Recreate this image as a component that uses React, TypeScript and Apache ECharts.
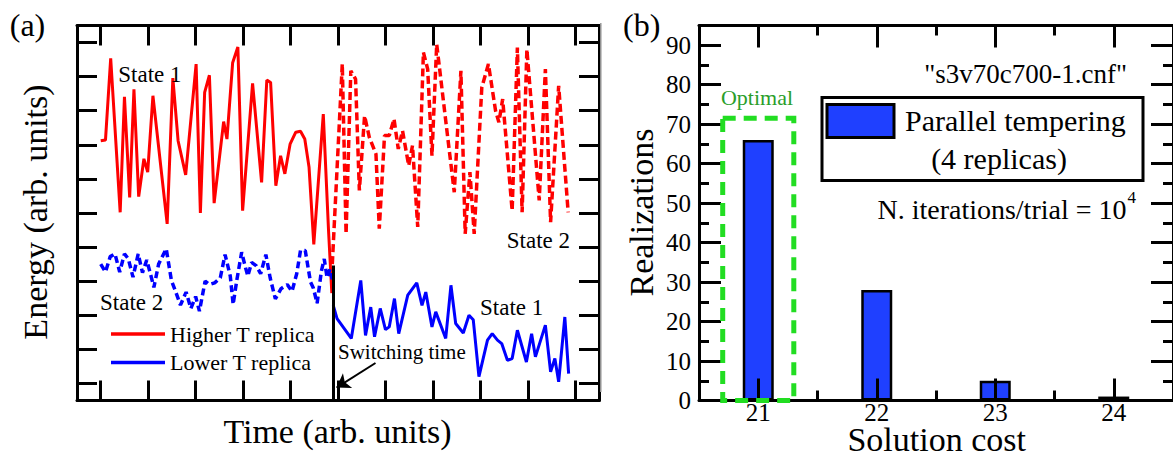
import React, { useEffect, useRef } from 'react';
import * as echarts from 'echarts';

const FONT = '"Liberation Serif", "Times New Roman", serif';

// ---------- Panel (a) data (arbitrary units, ticks at 0..10) ----------
const timeTicks = ['0', '1', '2', '3', '4', '5', '6', '7', '8', '9', '10'];
const energyTicks = ['0', '1', '2', '3', '4', '5', '6', '7', '8', '9', '10'];

const higherBefore: number[][] = [
  [0.0, 7.12], [0.1, 7.14], [0.21, 9.54], [0.41, 5.02], [0.5, 8.41], [0.61, 5.46], [0.7, 8.63],
  [0.8, 5.48], [0.91, 6.59], [0.99, 6.2], [1.1, 8.44], [1.4, 4.68], [1.52, 8.96], [1.63, 7.12],
  [1.79, 6.12], [2.01, 9.37], [2.1, 5.0], [2.19, 8.54], [2.29, 9.04], [2.39, 5.29], [2.59, 7.68],
  [2.66, 7.17], [2.78, 9.41], [2.89, 9.87], [2.99, 5.07], [3.2, 8.8], [3.39, 5.9], [3.5, 8.9],
  [3.58, 8.83], [3.69, 5.8], [3.79, 6.68], [3.88, 6.15], [3.99, 7.02], [4.11, 7.37], [4.21, 7.4],
  [4.3, 7.17], [4.39, 6.34], [4.49, 4.08], [4.69, 7.9], [4.8, 4.5], [4.87, 2.65],
];
const higherAfter: number[][] = [
  [4.88, 3.5], [5.09, 9.37], [5.17, 4.39], [5.27, 9.17], [5.37, 8.93], [5.45, 5.66], [5.56, 7.85],
  [5.66, 7.22], [5.8, 6.73], [5.87, 4.54], [5.98, 7.27], [6.08, 7.27], [6.18, 7.76], [6.27, 6.88],
  [6.36, 7.41], [6.49, 6.39], [6.57, 6.98], [6.68, 4.59], [6.8, 9.71], [6.89, 9.22], [6.98, 6.68],
  [7.08, 9.95], [7.27, 7.71], [7.45, 5.61], [7.59, 9.17], [7.68, 4.39], [7.78, 6.2], [7.87, 4.39],
  [8.03, 8.68], [8.17, 9.37], [8.32, 8.0], [8.39, 7.66], [8.47, 8.34], [8.67, 5.07], [8.78, 9.85],
  [8.88, 5.02], [8.98, 9.8], [9.24, 5.37], [9.37, 9.22], [9.48, 4.73], [9.65, 8.73], [9.85, 5.02],
];
const lowerBefore: number[][] = [
  [0.0, 3.5], [0.1, 3.27], [0.2, 3.72], [0.3, 3.8], [0.4, 3.27], [0.5, 3.8], [0.58, 3.66],
  [0.68, 3.12], [0.79, 3.8], [0.88, 3.25], [0.97, 3.62], [1.06, 3.15], [1.12, 2.82], [1.22, 3.5],
  [1.38, 3.95], [1.49, 3.02], [1.57, 2.73], [1.68, 2.3], [1.8, 2.68], [1.9, 2.2], [2.0, 2.55],
  [2.08, 2.12], [2.2, 3.0], [2.29, 2.9], [2.4, 2.95], [2.52, 3.1], [2.62, 3.78], [2.73, 3.15],
  [2.79, 2.32], [2.87, 3.05], [2.97, 3.85], [3.05, 3.4], [3.1, 3.15], [3.18, 3.55], [3.28, 3.45],
  [3.37, 3.22], [3.48, 3.78], [3.57, 3.1], [3.68, 2.48], [3.8, 2.78], [3.93, 2.9], [4.03, 2.7],
  [4.13, 3.22], [4.21, 3.9], [4.31, 3.9], [4.42, 2.98], [4.48, 2.8], [4.56, 2.35], [4.65, 3.3],
  [4.71, 3.65], [4.77, 3.1], [4.83, 3.35], [4.88, 3.05],
];
const lowerAfter: number[][] = [
  [4.9, 2.29], [4.98, 1.9], [5.28, 1.32], [5.48, 3.02], [5.58, 1.41], [5.69, 2.24], [5.77, 1.37],
  [5.89, 2.2], [6.0, 1.58], [6.08, 1.66], [6.19, 2.49], [6.28, 1.46], [6.47, 2.59], [6.66, 2.95],
  [6.77, 2.29], [6.85, 2.68], [6.98, 1.66], [7.06, 2.1], [7.27, 1.32], [7.38, 2.88], [7.48, 1.76],
  [7.64, 1.48], [7.76, 2.0], [7.85, 1.87], [7.97, 0.2], [8.15, 1.27], [8.25, 1.46], [8.36, 1.27],
  [8.45, 1.17], [8.57, 0.68], [8.67, 0.73], [8.78, 1.56], [8.97, 0.63], [9.08, 1.46], [9.16, 0.78],
  [9.37, 1.71], [9.48, 0.34], [9.57, 0.73], [9.65, 0.05], [9.78, 1.95], [9.86, 0.29],
];
const switchTime = 4.89;
const switchLineTop = 3.46;
const arrowFrom = [5.79, 0.6];
const arrowTo = [4.97, -0.12];

// ---------- Panel (b) data ----------
const costCategories = ['21', '22', '23', '24'];
const realizations = [66, 28, 5, 1];
const optimalBox = [[20.7, 21.3, 71.5]]; // cost from, cost to, height

const BLACK = '#000';
const mkLine = () => ({ show: true, onZero: false, lineStyle: { color: BLACK, width: 3 } });
const mkTick = (length: number, alignWithLabel: boolean) => ({
  show: true, inside: true, alignWithLabel, interval: 0, length,
  lineStyle: { color: BLACK, width: 3, opacity: 1 },
});

function txt(
  text: string, x: number, y: number, size: number,
  align: string = 'left', extra: any = {}, fill: string = BLACK, lineHeight?: number
) {
  const style: any = {
    text, fill, fontFamily: FONT, fontSize: size,
    textAlign: align, align, textVerticalAlign: 'middle', verticalAlign: 'middle',
  };
  if (lineHeight) style.lineHeight = lineHeight;
  return { type: 'text', x, y, z: 20, ...extra, style };
}

function buildOption(): any {
  const catAxis = (gridIndex: number, data: string[], position: string, tick: any, line: boolean, label: any) => ({
    gridIndex, type: 'category', data, position, boundaryGap: true,
    axisLine: line ? mkLine() : { show: false, onZero: false },
    splitLine: { show: false },
    axisTick: tick,
    axisLabel: label || { show: false, interval: 0 },
  });
  const valY = (position: string, interval: number, len: number, showLine: boolean, labels: boolean) => ({
    gridIndex: 1, type: 'value', min: 0, max: 95, interval, position,
    axisLine: showLine ? mkLine() : { show: false, onZero: false },
    splitLine: { show: false },
    axisTick: mkTick(len, false),
    axisLabel: labels
      ? {
          show: true, margin: 8, color: BLACK, fontFamily: FONT, fontSize: 25,
          formatter: (v: number) => (v % 10 === 0 ? String(v) : ''),
        }
      : { show: false },
  });
  const xLabel = {
    show: true, interval: 0, margin: 1, color: BLACK, fontFamily: FONT, fontSize: 25, lineHeight: 21,
  };

  return {
    animation: false,
    backgroundColor: '#fff',
    grid: [
      { left: 77, top: 25.5, width: 522, height: 375 },
      { left: 699, top: 25.5, width: 476, height: 375 },
    ],
    legend: {
      data: ['Higher T replica', 'Lower T replica'],
      orient: 'vertical', left: 106, top: 318, itemWidth: 54, itemHeight: 3.5, itemGap: 6.5,
      icon: 'rect', selectedMode: false,
      textStyle: { fontFamily: FONT, fontSize: 22, color: BLACK },
    },
    xAxis: [
      { gridIndex: 0, type: 'value', min: -0.5, max: 10.5, show: false },
      catAxis(0, timeTicks, 'bottom', mkTick(20, true), true, null),
      catAxis(0, timeTicks, 'top', mkTick(20, true), true, null),
      catAxis(1, costCategories, 'bottom', mkTick(10, false), true, xLabel),
      catAxis(1, costCategories, 'bottom', mkTick(22, true), false, null),
      catAxis(1, costCategories, 'top', mkTick(10, false), true, null),
      catAxis(1, costCategories, 'top', mkTick(22, true), false, null),
      { gridIndex: 1, type: 'value', min: 20.5, max: 24.5, show: false },
    ],
    yAxis: [
      { gridIndex: 0, type: 'value', min: -0.5, max: 10.5, show: false },
      catAxis(0, energyTicks, 'left', mkTick(20, true), true, null),
      catAxis(0, energyTicks, 'right', mkTick(20, true), true, null),
      valY('left', 10, 22, true, true),
      valY('left', 5, 10, false, false),
      valY('right', 10, 22, true, false),
      valY('right', 5, 10, false, false),
    ],
    series: [
      {
        type: 'line', name: 'Higher T replica', xAxisIndex: 0, yAxisIndex: 0, data: higherBefore,
        symbol: 'none', z: 3, color: '#ff0000', lineStyle: { color: '#ff0000', width: 3 },
      },
      {
        type: 'line', name: 'Higher T replica (after switch)', xAxisIndex: 0, yAxisIndex: 0,
        data: higherAfter, symbol: 'none', z: 3, color: '#ff0000',
        lineStyle: { color: '#ff0000', width: 3.5, type: [8, 4] },
      },
      {
        type: 'line', name: 'Lower T replica (before switch)', xAxisIndex: 0, yAxisIndex: 0,
        data: lowerBefore, symbol: 'none', z: 3, color: '#0000ff',
        lineStyle: { color: '#0000ff', width: 3.5, type: [7, 4] },
      },
      {
        type: 'line', name: 'Lower T replica', xAxisIndex: 0, yAxisIndex: 0, data: lowerAfter,
        symbol: 'none', z: 3, color: '#0000ff', lineStyle: { color: '#0000ff', width: 3 },
        markLine: {
          silent: true, animation: false, symbol: ['none', 'none'], label: { show: false },
          lineStyle: { color: BLACK, type: 'solid', width: 3 },
          data: [
            [
              { coord: [switchTime, switchLineTop], lineStyle: { color: BLACK, width: 3, type: 'solid' } },
              { coord: [switchTime, -0.5] },
            ],
            [
              { coord: arrowFrom, symbol: 'none', lineStyle: { color: BLACK, width: 2, type: 'solid' } },
              { coord: arrowTo, symbol: 'arrow', symbolSize: 13 },
            ],
          ],
        },
      },
      {
        type: 'bar', name: 'Parallel tempering (4 replicas)', xAxisIndex: 3, yAxisIndex: 3,
        data: realizations, barWidth: 31, z: -1,
        itemStyle: { color: '#1f40ff', borderColor: BLACK, borderWidth: 2.5 },
      },
      {
        type: 'custom', name: 'Optimal', xAxisIndex: 7, yAxisIndex: 3, data: optimalBox, z: 4,
        encode: { x: [0, 1], y: 2 },
        renderItem: (params: any, api: any) => {
          const p0 = api.coord([api.value(0), api.value(2)]);
          const p1 = api.coord([api.value(1), 0]);
          return {
            type: 'rect',
            shape: { x: p0[0], y: p0[1], width: p1[0] - p0[0], height: p1[1] - p0[1] },
            style: { fill: 'none', stroke: '#22dd22', lineWidth: 5, lineDash: [13, 8] },
          };
        },
      },
    ],
    graphic: [
      { type: 'line', z: 1, shape: { x1: 600.8, y1: 23, x2: 600.8, y2: 392 }, style: { stroke: '#999', lineWidth: 1.5 } },
      txt('(a)', 27.5, 24.5, 32, 'center'),
      txt('(b)', 641.7, 24.5, 32, 'center'),
      txt('Energy (arb. units)', 35, 212, 34, 'center', { rotation: Math.PI / 2 }),
      txt('Time (arb. units)', 337.5, 431, 34, 'center'),
      txt('Realizations', 641.5, 212.5, 34, 'center', { rotation: Math.PI / 2 }),
      txt('Solution cost', 936.7, 439, 34, 'center', {}, BLACK, 26),
      txt('State 1', 118.3, 74, 23, 'left'),
      txt('State 2', 570, 240.5, 23, 'right'),
      txt('State 2', 100, 302, 23, 'left'),
      txt('State 1', 480, 307, 23, 'left'),
      txt('Switching time', 338, 352, 21, 'left'),
      txt('Optimal', 757, 97, 22, 'center', {}, '#2a9e2a'),
      txt('"s3v70c700-1.cnf"', 1127, 73.5, 27, 'right'),
      {
        type: 'rect', z: 15, shape: { x: 822, y: 97.5, width: 321, height: 83 },
        style: { fill: '#fff', stroke: BLACK, lineWidth: 3 },
      },
      {
        type: 'rect', z: 16, shape: { x: 827, y: 104.5, width: 67, height: 33 },
        style: { fill: '#1f40ff', stroke: BLACK, lineWidth: 3 },
      },
      txt('Parallel tempering', 905, 120, 30, 'left'),
      txt('(4 replicas)', 999, 158.6, 30, 'center'),
      txt('N. iterations/trial = 10', 1126.5, 209, 28, 'right'),
      txt('4', 1127.5, 197.5, 17, 'left'),
    ],
  };
}

export default function App() {
  const ref = useRef<HTMLDivElement>(null);
  useEffect(() => {
    if (!ref.current) return;
    const chart = echarts.init(ref.current, undefined, { renderer: 'svg' });
    chart.setOption(buildOption());
    return () => chart.dispose();
  }, []);
  return (
    <div
      ref={ref}
      style={{ position: 'absolute', left: 0, top: 0, width: 1173, height: 456, background: '#fff' }}
    />
  );
}
